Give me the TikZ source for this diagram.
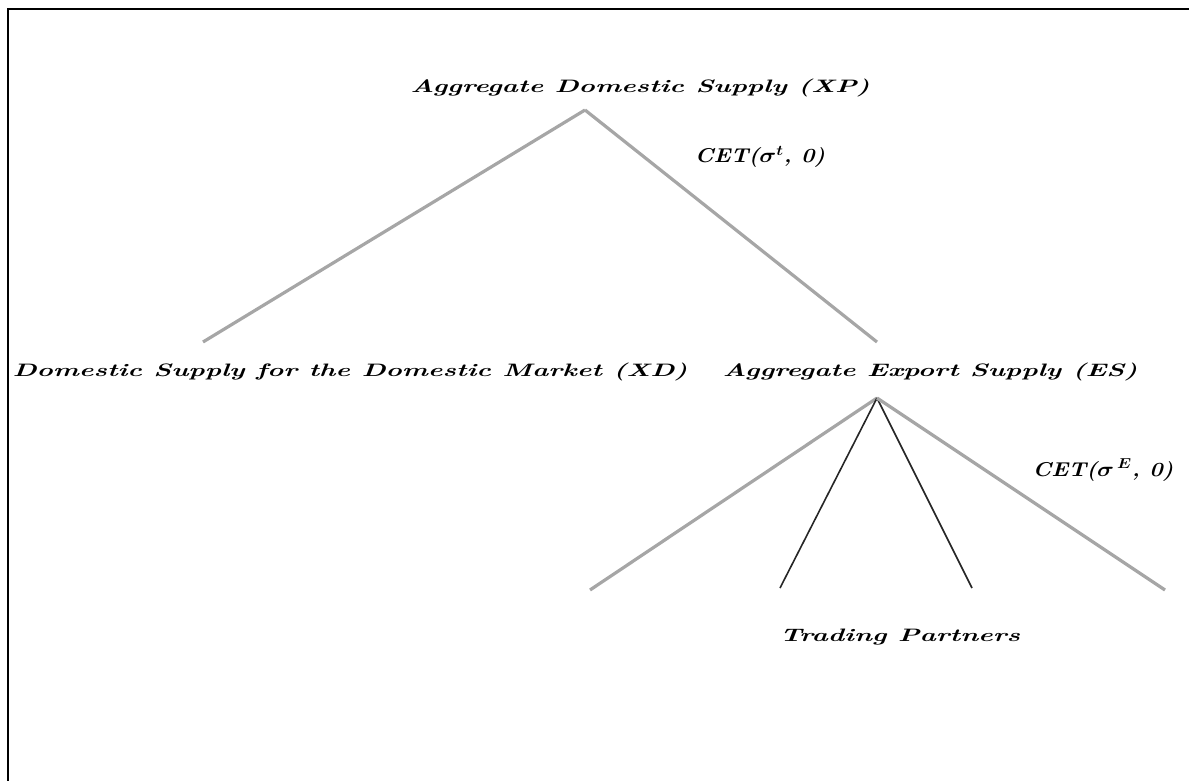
\documentclass[tikz,border=0pt]{standalone}
\usepackage{xcolor}
\usepackage{tikz}
\colorlet{branch}{gray!70}
\colorlet{partner}{black!85}
\tikzset{
  % node options
  label/.style={font=\fontsize{18}{21}\selectfont\bfseries\itshape,xscale=1.53,transform shape,inner sep=0pt},
  cet/.style={font=\fontsize{20}{23}\selectfont\boldmath\bfseries\itshape,xscale=1.13,transform shape,inner sep=0pt},
  % path options
  nest/.style={draw=branch,line width=3.2pt},
  split/.style={draw=partner,line width=1.6pt},
  frame/.style={draw,line width=2.5pt},
}

\begin{document}
\begin{tikzpicture}[x=1pt,y=-1pt]
    \useasboundingbox (0,0) rectangle (1189,781);
    \draw[frame] (8,781) -- (8,9) -- (1189,9);
    % labels
    \node[label] (xp) at (640,88) {Aggregate Domestic Supply (XP)};
    \node[label] (xd) at (350,372) {Domestic Supply for the Domestic Market (XD)};
    \node[label] (es) at (930,372) {Aggregate Export Supply (ES)};
    \node[label] (partners) at (900,637) {Trading Partners};
    \node[cet] (cetTop) at (760,157) {CET($\sigma^{t}$, 0)};
    \node[cet] (cetEs) at (1103,470) {CET($\sigma^{\,E}$, 0)};
    % branch ends
    \coordinate (xpTip) at (585,110);
    \coordinate (xdEnd) at (203,342);
    \coordinate (esEnd) at (877,342);
    \coordinate (esTip) at (877,398);
    \coordinate (p1) at (590,590);
    \coordinate (p2) at (780,588);
    \coordinate (p3) at (972,588);
    \coordinate (p4) at (1165,590);
    \draw[nest] (xpTip) -- (xdEnd);
    \draw[nest] (xpTip) -- (esEnd);
    \draw[nest] (esTip) -- (p1);
    \draw[split] (esTip) -- (p2);
    \draw[split] (esTip) -- (p3);
    \draw[nest] (esTip) -- (p4);
  \end{tikzpicture}
\end{document}
